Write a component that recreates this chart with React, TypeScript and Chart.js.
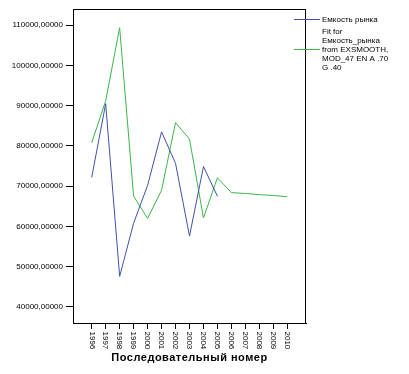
import React, { useEffect, useRef } from "react";
import { Chart, registerables } from "chart.js";

Chart.register(...registerables);

const years = [1996, 1997, 1998, 1999, 2000, 2001, 2002, 2003, 2004, 2005, 2006, 2007, 2008, 2009, 2010];
const marketValues: (number | null)[] = [72200, 90500, 47600, 60800, 70200, 83500, 75700, 57600, 74900, 67500, null, null, null, null, null];
const fitValues = [80800, 91200, 109400, 67500, 62000, 69000, 85800, 81700, 62100, 72100, 68400, 68200, 67900, 67700, 67400];
const yTicks = [40000, 50000, 60000, 70000, 80000, 90000, 100000, 110000];
const xTitle = "Последовательный номер";
const legendMarket = "Емкость рынка";
const legendFit = ["Fit for", "Емкость_рынка", "from EXSMOOTH,", "MOD_47 EN A .70", "G .40"];

const BLUE = "#3F51A7";
const GREEN = "#3DB54A";
const FONT = "'Liberation Sans', Arial, sans-serif";

export default function App() {
  const ref = useRef<HTMLCanvasElement>(null);
  useEffect(() => {
    const canvas = ref.current!;
    const decor = {
      id: "decor",
      afterDraw(chart: any) {
        const ctx = chart.ctx;
        const a = chart.chartArea;
        const xs = chart.scales.x;
        ctx.save();
        ctx.strokeStyle = "#000";
        ctx.lineWidth = 1;
        ctx.strokeRect(Math.round(a.left) + 0.5, Math.round(a.top) + 0.5, Math.round(a.right - a.left) - 1, Math.round(a.bottom - a.top));
        // x tick labels (rotated clockwise)
        ctx.fillStyle = "#000";
        ctx.font = `8px ${FONT}`;
        ctx.textAlign = "left";
        ctx.textBaseline = "middle";
        years.forEach((yr) => {
          const px = xs.getPixelForValue(yr);
          ctx.save();
          ctx.translate(px, a.bottom + 8.5);
          ctx.rotate(Math.PI / 2);
          ctx.fillText(String(yr), 0, 0);
          ctx.restore();
        });
        // axis title
        ctx.font = `bold 11px ${FONT}`;
        (ctx as any).letterSpacing = "0.5px";
        ctx.textAlign = "center";
        ctx.textBaseline = "alphabetic";
        ctx.fillText(xTitle, (a.left + a.right) / 2, 361);
        (ctx as any).letterSpacing = "0px";
        // legend
        ctx.lineWidth = 1;
        ctx.strokeStyle = BLUE;
        ctx.beginPath();
        ctx.moveTo(294, 19.5);
        ctx.lineTo(320, 19.5);
        ctx.stroke();
        ctx.strokeStyle = GREEN;
        ctx.beginPath();
        ctx.moveTo(294, 49.5);
        ctx.lineTo(320, 49.5);
        ctx.stroke();
        ctx.font = `8px ${FONT}`;
        ctx.textAlign = "left";
        ctx.textBaseline = "middle";
        ctx.fillText(legendMarket, 322, 19.5);
        const lineYs = [31.5, 40.5, 49.5, 58.5, 67.5];
        legendFit.forEach((t, i) => ctx.fillText(t, 322, lineYs[i]));
        ctx.restore();
      },
    };
    const chart = new Chart(canvas, {
      type: "line",
      data: {
        datasets: [
          {
            label: legendMarket,
            data: years.map((x, i) => ({ x, y: marketValues[i] })) as any,
            borderColor: BLUE,
            borderWidth: 1,
            pointRadius: 0,
            tension: 0,
            spanGaps: false,
          },
          {
            label: legendFit.join(" "),
            data: years.map((x, i) => ({ x, y: fitValues[i] })),
            borderColor: GREEN,
            borderWidth: 1,
            pointRadius: 0,
            tension: 0,
          },
        ],
      },
      options: {
        animation: false,
        responsive: false,
        devicePixelRatio: 1,
        layout: { padding: { top: 9, right: 103, left: 0, bottom: 0 } },
        plugins: { legend: { display: false }, tooltip: { enabled: false } },
        scales: {
          x: {
            type: "linear",
            min: 1994.66,
            max: 2011.34,
            afterBuildTicks: (s: any) => {
              s.ticks = years.map((v) => ({ value: v }));
            },
            afterFit: (s: any) => {
              s.height = 51;
            },
            grid: { drawOnChartArea: false, drawTicks: true, tickLength: 6, color: "#000" },
            border: { display: true, color: "#000" },
            ticks: { display: true, callback: () => "", autoSkip: false, maxRotation: 0 },
          },
          y: {
            type: "linear",
            min: 36000,
            max: 114050,
            afterBuildTicks: (s: any) => {
              s.ticks = yTicks.map((v) => ({ value: v }));
            },
            afterFit: (s: any) => {
              s.width = 73;
            },
            grid: { drawOnChartArea: false, drawTicks: true, tickLength: 7, color: "#000" },
            border: { display: true, color: "#000" },
            ticks: {
              color: "#000",
              padding: 3,
              font: { family: FONT, size: 8 },
              callback: (v: any) => `${v},00000`,
            },
          },
        },
      },
      plugins: [decor],
    });
    return () => chart.destroy();
  }, []);
  return (
    <div style={{ position: "fixed", left: 0, top: 0, width: 409, height: 374, background: "#fff" }}>
      <canvas ref={ref} width={409} height={374} style={{ display: "block", width: 409, height: 374 }} />
    </div>
  );
}
